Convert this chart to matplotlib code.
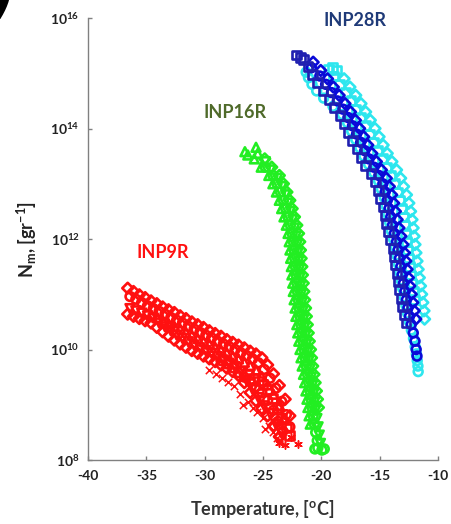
import numpy as np
import matplotlib
matplotlib.use("Agg")
import matplotlib.pyplot as plt

plt.rcParams['font.family'] = ['Lato', 'DejaVu Sans']
plt.rcParams['mathtext.fontset'] = 'custom'
plt.rcParams['mathtext.rm'] = 'Lato'
plt.rcParams['mathtext.bf'] = 'Lato:bold'
plt.rcParams['mathtext.it'] = 'Lato:bold:italic'
plt.rcParams['mathtext.default'] = 'bf'
plt.rcParams['axes.unicode_minus'] = False

# ---------------- axis ticks ----------------
x_ticks = [-40, -35, -30, -25, -20, -15, -10]
x_tick_labels = ['-40', '-35', '-30', '-25', '-20', '-15', '-10']
y_ticks = [1e8, 1e10, 1e12, 1e14, 1e16]
y_tick_labels = [r'$10^{8}$', r'$10^{10}$', r'$10^{12}$', r'$10^{14}$', r'$10^{16}$']

# ---------------- INP9R (temperature in C, log10 of Nm) ----------------
inp9r_a1_t = [-36.6, -36.1, -35.6, -35.1, -34.6, -34.1, -33.6, -33.1, -32.6, -32.1, -31.6, -31.1, -30.6, -30.1,
              -29.6, -29.1, -28.6, -28.1, -27.6, -27.1, -26.6, -26.1, -25.6, -25.1, -24.6, -24.1, -23.6, -23.1, -22.7]
inp9r_a1_log = [11.11, 11.05, 10.99, 10.94, 10.88, 10.83, 10.77, 10.72, 10.67, 10.61, 10.56, 10.50, 10.45, 10.40,
                10.34, 10.29, 10.24, 10.18, 10.13, 10.08, 10.03, 9.97, 9.92, 9.85, 9.72, 9.56, 9.35, 9.10, 8.80]

inp9r_a2_t = [-36.4, -35.9, -35.4, -34.9, -34.4, -33.9, -33.4, -32.9, -32.4, -31.9, -31.4, -30.9, -30.4, -29.9,
              -29.4, -28.9, -28.4, -27.9, -27.4, -26.9, -26.4, -25.9, -25.4, -24.9, -24.4, -23.9, -23.4, -23.0, -22.7]
inp9r_a2_log = [10.96, 10.91, 10.85, 10.79, 10.74, 10.69, 10.64, 10.58, 10.53, 10.48, 10.42, 10.37, 10.31, 10.26,
                10.21, 10.15, 10.10, 10.05, 10.00, 9.94, 9.89, 9.83, 9.76, 9.64, 9.48, 9.30, 9.06, 8.82, 8.60]

inp9r_a3_t = [-34.6, -34.1, -33.6, -33.1, -32.6, -32.1, -31.6, -31.1, -30.6, -30.1, -29.6, -29.1, -28.6, -28.1,
              -27.6, -27.1, -26.6, -26.1, -25.6, -25.1, -24.6, -24.1, -23.6, -23.2]
inp9r_a3_log = [10.63, 10.58, 10.53, 10.47, 10.42, 10.37, 10.31, 10.26, 10.20, 10.15, 10.10, 10.04, 9.99, 9.94,
                9.88, 9.83, 9.77, 9.71, 9.63, 9.51, 9.36, 9.19, 8.99, 8.76]

inp9r_b1_t = [-36.6, -36.1, -35.6, -35.1, -34.6, -34.1, -33.6, -33.1, -32.6, -32.1, -31.6, -31.1, -30.6, -30.1,
              -29.6, -29.1, -28.6, -28.1, -27.6, -27.1, -26.6, -26.1, -25.6, -25.1, -24.6, -24.1, -23.6]
inp9r_b1_log = [10.64, 10.60, 10.56, 10.52, 10.48, 10.40, 10.32, 10.24, 10.17, 10.10, 10.04, 9.98, 9.93, 9.88,
                9.83, 9.78, 9.72, 9.66, 9.60, 9.53, 9.40, 9.22, 9.07, 8.93, 8.80, 8.62, 8.42]

inp9r_b2_t = [-36.4, -35.9, -35.4, -34.9, -34.4, -33.9, -33.4, -32.9, -32.4, -31.9, -31.4, -30.9, -30.4, -29.9,
              -29.4, -28.9, -28.4, -27.9, -27.4, -26.9, -26.4, -25.9, -25.4, -24.9, -24.4, -23.9, -23.4]
inp9r_b2_log = [10.74, 10.70, 10.66, 10.61, 10.57, 10.48, 10.41, 10.34, 10.26, 10.20, 10.14, 10.08, 10.03, 9.98,
                9.93, 9.87, 9.81, 9.75, 9.69, 9.60, 9.44, 9.28, 9.13, 8.98, 8.84, 8.65, 8.48]

inp9r_c1_t = [-28.6, -28.1, -27.6, -27.1, -26.6, -26.1, -25.6, -25.1, -24.6, -24.1, -23.7, -23.3]
inp9r_c1_log = [9.80, 9.74, 9.67, 9.58, 9.50, 9.42, 9.33, 9.22, 9.08, 8.90, 8.70, 8.52]

inp9r_c2_t = [-29.6, -29.0, -28.5, -28.0, -27.5, -27.0, -26.7, -26.3, -25.9, -25.5, -25.0, -24.8, -24.5, -24.1, -23.8, -23.5]
inp9r_c2_log = [9.62, 9.55, 9.49, 9.42, 9.34, 9.20, 8.99, 9.05, 8.95, 8.86, 8.76, 8.57, 8.62, 8.50, 8.40, 8.34]

inp9r_c3_t = [-26.2, -25.8, -25.4, -25.0, -24.6, -24.2, -23.8, -23.4, -23.0, -22.7]
inp9r_c3_log = [9.55, 9.48, 9.43, 9.37, 9.27, 9.12, 8.95, 8.75, 8.58, 8.45]

inp9r_d_t = [-23.6, -23.1, -22.0, -22.6]
inp9r_d_log = [8.30, 8.28, 8.29, 8.42]

# ---------------- INP16R ----------------
inp16r_g1_t = [-26.55, -26.3, -25.6, -25.45, -25.75, -25.15, -24.5, -24.15, -23.85, -23.6, -23.4, -23.2, -23.0, -22.85,
               -22.75, -22.69, -22.63, -22.57, -22.52, -22.45, -22.4, -22.33, -22.25, -22.18, -22.1, -22.02, -21.93,
               -21.83, -21.74, -21.64, -21.53, -21.43, -21.32, -21.23, -21.15, -21.05, -20.95]
inp16r_g1_log = [13.58, 13.52, 13.66, 13.55, 13.45, 13.30, 13.15, 13.00, 12.85, 12.70, 12.55, 12.40, 12.25, 12.10,
                 11.95, 11.80, 11.65, 11.50, 11.35, 11.20, 11.05, 10.90, 10.75, 10.60, 10.45, 10.30, 10.15,
                 10.00, 9.85, 9.70, 9.55, 9.40, 9.25, 9.10, 8.95, 8.80, 8.65]

inp16r_g2_t = [-24.85, -24.25, -23.6, -23.25, -22.95, -22.7, -22.5, -22.3, -22.1, -21.95, -21.85, -21.79, -21.73,
               -21.67, -21.62, -21.55, -21.5, -21.43, -21.35, -21.28, -21.2, -21.12, -21.03, -20.93, -20.84, -20.74,
               -20.63, -20.53, -20.42, -20.33, -20.25]
inp16r_g2_log = [13.45, 13.30, 13.15, 13.00, 12.85, 12.70, 12.55, 12.40, 12.25, 12.10, 11.95, 11.80, 11.65,
                 11.50, 11.35, 11.20, 11.05, 10.90, 10.75, 10.60, 10.45, 10.30, 10.15, 10.00, 9.85, 9.70,
                 9.55, 9.40, 9.25, 9.10, 8.95]

inp16r_g3_t = [-24.8, -24.15, -23.8, -23.5, -23.25, -23.05, -22.85, -22.65, -22.5, -22.4, -22.34, -22.28, -22.22,
               -22.17, -22.1, -22.05, -21.98, -21.9, -21.83, -21.75, -21.67, -21.58, -21.48, -21.39, -21.29, -21.18,
               -21.08, -20.97, -20.88, -20.8, -20.7, -20.6, -20.48, -20.35, -20.3, -20.55, -19.95, -19.75]
inp16r_g3_log = [13.30, 13.15, 13.00, 12.85, 12.70, 12.55, 12.40, 12.25, 12.10, 11.95, 11.80, 11.65, 11.50,
                 11.35, 11.20, 11.05, 10.90, 10.75, 10.60, 10.45, 10.30, 10.15, 10.00, 9.85, 9.70, 9.55,
                 9.40, 9.25, 9.10, 8.95, 8.80, 8.65, 8.50, 8.35, 8.22, 8.20, 8.18, 8.20]

inp16r_g4_t = [-24.8, -24.35, -23.75, -23.35, -23.05, -22.85, -22.65, -22.45, -22.28, -22.15, -22.06, -22.0, -21.94,
               -21.88, -21.83, -21.78, -21.72, -21.65, -21.57, -21.5, -21.42, -21.34, -21.25, -21.15, -21.06, -20.96,
               -20.85, -20.75, -20.65, -20.56, -20.48, -20.38, -20.28, -20.18, -20.08]
inp16r_g4_log = [13.40, 13.25, 13.10, 12.95, 12.80, 12.65, 12.50, 12.35, 12.20, 12.05, 11.90, 11.75, 11.60,
                 11.45, 11.30, 11.15, 11.00, 10.85, 10.70, 10.55, 10.40, 10.25, 10.10, 9.95, 9.80, 9.65,
                 9.50, 9.35, 9.20, 9.05, 8.90, 8.75, 8.60, 8.45, 8.30]

# ---------------- INP28R, cyan runs ----------------
inp28r_cl_t = [-21.3, -21.1, -20.8, -20.4, -19.8, -19.0, -18.2, -17.75, -17.4, -17.05, -16.7, -16.35, -15.95, -15.5,
               -15.1, -14.85, -14.6, -14.45, -14.3, -14.15, -14.0, -13.82, -13.65, -13.52, -13.4, -13.28, -13.15,
               -13.02, -12.9, -12.75, -12.6, -12.45, -12.28, -12.1, -11.95, -11.85, -11.78, -11.72, -11.7]
inp28r_cl_log = [15.02, 14.92, 14.80, 14.68, 14.55, 14.40, 14.25, 14.10, 13.95, 13.80, 13.65, 13.50, 13.35, 13.20,
                 13.05, 12.90, 12.75, 12.60, 12.45, 12.30, 12.15, 12.00, 11.85, 11.70, 11.55, 11.40, 11.25,
                 11.10, 10.95, 10.80, 10.65, 10.50, 10.35, 10.20, 10.05, 9.92, 9.80, 9.70, 9.60]

inp28r_cr1_t = [-19.4, -19.05, -18.7, -18.93, -18.42, -17.92, -17.45, -17.03, -16.63, -16.23, -15.87, -15.52, -15.17,
                -14.78, -14.38, -14.02, -13.73, -13.48, -13.27, -13.1, -12.97, -12.86, -12.78, -12.7, -12.62, -12.53,
                -12.43, -12.33, -12.23, -12.13, -12.03]
inp28r_cr1_log = [15.07, 15.10, 15.06, 14.95, 14.80, 14.65, 14.50, 14.35, 14.20, 14.05, 13.90, 13.75, 13.60,
                  13.45, 13.30, 13.15, 13.00, 12.85, 12.70, 12.55, 12.40, 12.25, 12.10, 11.95, 11.80, 11.65,
                  11.50, 11.35, 11.20, 11.05, 10.90]

inp28r_cr2_t = [-18.05, -17.55, -17.05, -16.6, -16.2, -15.8, -15.4, -15.05, -14.7, -14.35, -13.95, -13.55, -13.2,
                -12.95, -12.7, -12.5, -12.35, -12.23, -12.13, -12.05, -11.97, -11.89, -11.8, -11.7, -11.6, -11.5,
                -11.4, -11.3, -11.2, -11.15]
inp28r_cr2_log = [14.90, 14.75, 14.60, 14.45, 14.30, 14.15, 14.00, 13.85, 13.70, 13.55, 13.40, 13.25, 13.10,
                  12.95, 12.80, 12.65, 12.50, 12.35, 12.20, 12.05, 11.90, 11.75, 11.60, 11.45, 11.30, 11.15,
                  11.00, 10.85, 10.70, 10.55]

# ---------------- INP28R, dark blue runs ----------------
inp28r_b1_t = [-22.1, -21.8, -21.5, -21.15, -20.75, -20.3, -19.85, -19.35, -18.85, -18.4, -18.0, -17.65, -17.3,
               -16.95, -16.6, -16.2, -15.75, -15.35, -15.1, -14.9, -14.7, -14.55, -14.4, -14.22, -14.05, -13.85,
               -13.75, -13.62, -13.52, -13.4, -13.28, -13.15, -13.02, -12.9, -12.75]
inp28r_b1_log = [15.33, 15.28, 15.25, 15.12, 14.98, 14.83, 14.68, 14.53, 14.38, 14.23, 14.08, 13.93, 13.78,
                 13.63, 13.48, 13.33, 13.18, 13.03, 12.88, 12.73, 12.58, 12.43, 12.28, 12.13, 11.98, 11.83,
                 11.68, 11.53, 11.38, 11.23, 11.08, 10.93, 10.78, 10.63, 10.48]

inp28r_b2_t = [-20.7, -20.05, -19.47, -18.97, -18.47, -17.97, -17.5, -17.08, -16.72, -16.37, -16.02, -15.67, -15.28,
               -14.85, -14.43, -14.17, -13.97, -13.8, -13.65, -13.5, -13.35, -13.18, -13.0, -12.88, -12.76, -12.65,
               -12.54, -12.42, -12.29, -12.16, -12.04, -11.9]
inp28r_b2_log = [15.20, 15.05, 14.90, 14.75, 14.60, 14.45, 14.30, 14.15, 14.00, 13.85, 13.70, 13.55, 13.40,
                 13.25, 13.10, 12.95, 12.80, 12.65, 12.50, 12.35, 12.20, 12.05, 11.90, 11.75, 11.60, 11.45,
                 11.30, 11.15, 11.00, 10.85, 10.70, 10.55]

inp28r_b3_t = [-20.85, -20.13, -19.63, -19.13, -18.63, -18.15, -17.72, -17.33, -16.98, -16.63, -16.28, -15.92, -15.5,
               -15.07, -14.73, -14.53, -14.35, -14.2, -14.05, -13.9, -13.74, -13.56, -13.42, -13.31, -13.19, -13.08,
               -12.96, -12.84, -12.71, -12.58, -12.45, -12.3, -12.12, -11.97, -11.87, -11.8]
inp28r_b3_log = [15.10, 14.95, 14.80, 14.65, 14.50, 14.35, 14.20, 14.05, 13.90, 13.75, 13.60, 13.45, 13.30,
                 13.15, 13.00, 12.85, 12.70, 12.55, 12.40, 12.25, 12.10, 11.95, 11.80, 11.65, 11.50, 11.35,
                 11.20, 11.05, 10.90, 10.75, 10.60, 10.45, 10.30, 10.15, 10.00, 9.88]

# ---------------- colours ----------------
red = '#FF1010'
green = '#22EE22'
cyan = '#2EE6EE'
blue = '#0A0AD8'
navy_edge = '#2020B0'
asterisk = (6, 2, 0)

runs = [
    # (temperatures, log10 values, marker, colour)
    (inp9r_b1_t, inp9r_b1_log, 'D', red),
    (inp9r_b2_t, inp9r_b2_log, 'v', red),
    (inp9r_c2_t, inp9r_c2_log, 'x', red),
    (inp9r_c1_t, inp9r_c1_log, 'o', red),
    (inp9r_c3_t, inp9r_c3_log, 's', red),
    (inp9r_a3_t, inp9r_a3_log, '^', red),
    (inp9r_a2_t, inp9r_a2_log, 'o', red),
    (inp9r_a1_t, inp9r_a1_log, 'D', red),
    (inp9r_d_t, inp9r_d_log, asterisk, red),
    (inp16r_g4_t, inp16r_g4_log, 'v', green),
    (inp16r_g3_t, inp16r_g3_log, 'o', green),
    (inp16r_g2_t, inp16r_g2_log, 'D', green),
    (inp16r_g1_t, inp16r_g1_log, '^', green),
    (inp28r_cl_t, inp28r_cl_log, 'o', cyan),
    (inp28r_cr2_t, inp28r_cr2_log, 'D', cyan),
    (inp28r_cr1_t, inp28r_cr1_log, 's', cyan),
    (inp28r_b3_t, inp28r_b3_log, 'o', blue),
    (inp28r_b2_t, inp28r_b2_log, 'D', blue),
    (inp28r_b1_t, inp28r_b1_log, 's', navy_edge),
]

fig = plt.figure(figsize=(4.51, 5.24), dpi=100)
ax = fig.add_axes([88 / 451, 64 / 524, 350 / 451, 442 / 524])
ax.set_yscale('log')

for temps, logs, marker, color in runs:
    values = 10.0 ** np.asarray(logs)
    if marker in ('x', asterisk):
        ax.scatter(temps, values, s=28, marker=marker, c=color, linewidths=1.1, zorder=2)
    else:
        size = 30 if marker == 'D' else 40
        ax.scatter(temps, values, s=size, marker=marker, facecolors='none',
                   edgecolors=color, linewidths=1.9, zorder=2)

ax.set_xlim(-40, -10)
ax.set_ylim(1e8, 1e16)
ax.set_xticks(x_ticks)
ax.set_xticklabels(x_tick_labels, fontweight='bold', fontsize=10)
ax.set_yticks(y_ticks)
ax.set_yticklabels(y_tick_labels, fontsize=10)
ax.yaxis.set_minor_locator(matplotlib.ticker.NullLocator())

for side in ('top', 'right'):
    ax.spines[side].set_visible(False)
for side in ('left', 'bottom'):
    ax.spines[side].set_color('#808080')
    ax.spines[side].set_linewidth(1.0)
ax.tick_params(direction='in', length=3, width=1, color='#808080', labelcolor='#222222')
ax.tick_params(axis='x', pad=7)
ax.tick_params(axis='y', pad=6)

fig.text(262 / 451, 1 - 509 / 524, r'Temperature, [$^{o}$C]', fontsize=13, fontweight='bold',
         color='#333333', ha='center', va='center')
fig.text(27 / 451, 1 - 240 / 524, r'N$_{m}$, [gr$^{-1}$]', fontsize=13, fontweight='bold',
         color='#222222', ha='center', va='center', rotation=90)

fig.text(355 / 451, 1 - 21 / 524, 'INP28R', fontsize=13, fontweight='bold', color='#1F3A78',
         ha='center', va='center')
fig.text(235 / 451, 1 - 112 / 524, 'INP16R', fontsize=13, fontweight='bold', color='#4F6A2A',
         ha='center', va='center')
fig.text(163 / 451, 1 - 252 / 524, 'INP9R', fontsize=13, fontweight='bold', color='#FF1010',
         ha='center', va='center')

# panel marker, partly outside the canvas
fig.text(0.0, 1.085, ')', fontsize=52, fontweight='bold', color='black',
         ha='center', va='top', family='DejaVu Sans')

fig.savefig('out.png', dpi=100)
